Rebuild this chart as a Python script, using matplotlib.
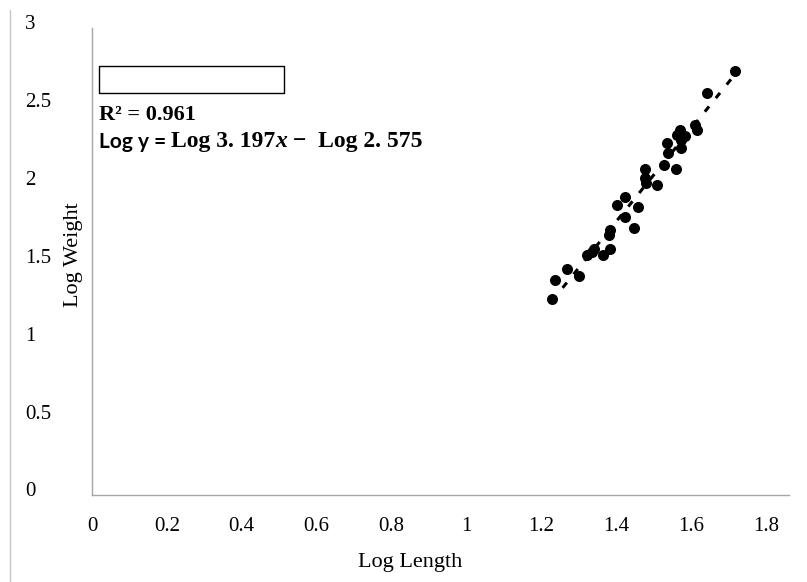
import numpy as np
import matplotlib
matplotlib.use("Agg")
import matplotlib.pyplot as plt
from matplotlib.patches import Rectangle
from matplotlib.lines import Line2D
import matplotlib.transforms as mtransforms

# values
log_length = [1.718, 1.643, 1.612, 1.615, 1.572, 1.564, 1.583, 1.574, 1.537, 1.574,
              1.540, 1.527, 1.561, 1.476, 1.476, 1.480, 1.509, 1.423, 1.403, 1.458,
              1.423, 1.448, 1.384, 1.382, 1.341, 1.322, 1.336, 1.364, 1.385, 1.270,
              1.300, 1.238, 1.228]
log_weight = [2.725, 2.580, 2.376, 2.344, 2.344, 2.312, 2.306, 2.280, 2.261, 2.227,
              2.197, 2.119, 2.092, 2.094, 2.036, 2.006, 1.991, 1.916, 1.863, 1.852,
              1.787, 1.717, 1.702, 1.670, 1.578, 1.541, 1.563, 1.541, 1.578, 1.450,
              1.407, 1.381, 1.257]
x_ticks = [0, 0.2, 0.4, 0.6, 0.8, 1, 1.2, 1.4, 1.6, 1.8]
x_tick_labels = ["0", "0.2", "0.4", "0.6", "0.8", "1", "1.2", "1.4", "1.6", "1.8"]
y_ticks = [0, 0.5, 1, 1.5, 2, 2.5, 3]
y_tick_labels = ["0", "0.5", "1", "1.5", "2", "2.5", "3"]
r2_text = "R² = 0.961"

serif = "Liberation Serif"
grey = "#A6A6A6"

fig = plt.figure(figsize=(8.07, 5.82), dpi=100)
ax = fig.add_axes([0.114, 0.1495, 0.8637, 0.8025])

ax.scatter(log_length, log_weight, s=48, color="black", zorder=3)

# linear trendline fitted on the data, drawn over the data range
x = np.array(log_length)
y = np.array(log_weight)
slope, intercept = np.polyfit(x, y, 1)
xs = np.array([x.min(), x.max()])
ax.plot(xs, slope * xs + intercept, color="black", linestyle=(0, (2.2, 3.5)), linewidth=2.2, zorder=2)

ax.set_xlim(0, 1.862)
ax.set_ylim(0, 3)
ax.set_xticks(x_ticks)
ax.set_xticklabels(x_tick_labels, fontsize=15, family=serif)
ax.set_yticks(y_ticks)
ax.set_yticklabels(y_tick_labels, fontsize=15, family=serif, ha="left")
ax.tick_params(axis="both", length=0)
ax.tick_params(axis="x", pad=16)
ax.tick_params(axis="y", pad=48)

# y labels sit a little higher than their gridline in the original
shift = mtransforms.ScaledTranslation(0, 4 / 72, fig.dpi_scale_trans)
for lbl in ax.get_yticklabels():
    lbl.set_transform(lbl.get_transform() + shift)

for side in ["top", "right"]:
    ax.spines[side].set_visible(False)
for side in ["left", "bottom"]:
    ax.spines[side].set_color(grey)
    ax.spines[side].set_linewidth(1.0)

ax.set_xlabel("Log Length", fontsize=16, family=serif)
ax.xaxis.set_label_coords(0.456, -0.124)
ax.set_ylabel("Log Weight", fontsize=16, family=serif)
ax.yaxis.set_label_coords(-0.013, 0.514)

# empty box left from the trendline label
ax.add_patch(Rectangle((0.010, 0.861), 0.265, 0.058, transform=ax.transAxes,
                       fill=False, edgecolor="black", linewidth=1.0, clip_on=False))

ax.text(0.010, 0.814, r2_text, transform=ax.transAxes, fontsize=16,
        family=serif, fontweight="bold", va="center", ha="left")

# equation, built from pieces with different fonts
t1 = ax.text(0.010, 0.743, "Log y = ", transform=ax.transAxes, fontsize=15,
             family="Lato", fontweight="bold", va="baseline", ha="left")
t2 = ax.annotate("Log 3. 197", xy=(1, 0), xycoords=t1, va="bottom", ha="left",
                 fontsize=17, family=serif, fontweight="bold")
t3 = ax.annotate("x", xy=(1, 0), xycoords=t2, va="bottom", ha="left",
                 fontsize=17, family=serif, fontweight="bold", style="italic")
t4 = ax.annotate(" −  Log 2. 575", xy=(1, 0), xycoords=t3, va="bottom", ha="left",
                 fontsize=17, family=serif, fontweight="bold")

# thin border line on the left side of the picture
fig.add_artist(Line2D([10 / 807, 10 / 807], [0, 1 - 10 / 582], color="#C8C8C8", linewidth=1.0))

plt.savefig("out.png", dpi=100)
